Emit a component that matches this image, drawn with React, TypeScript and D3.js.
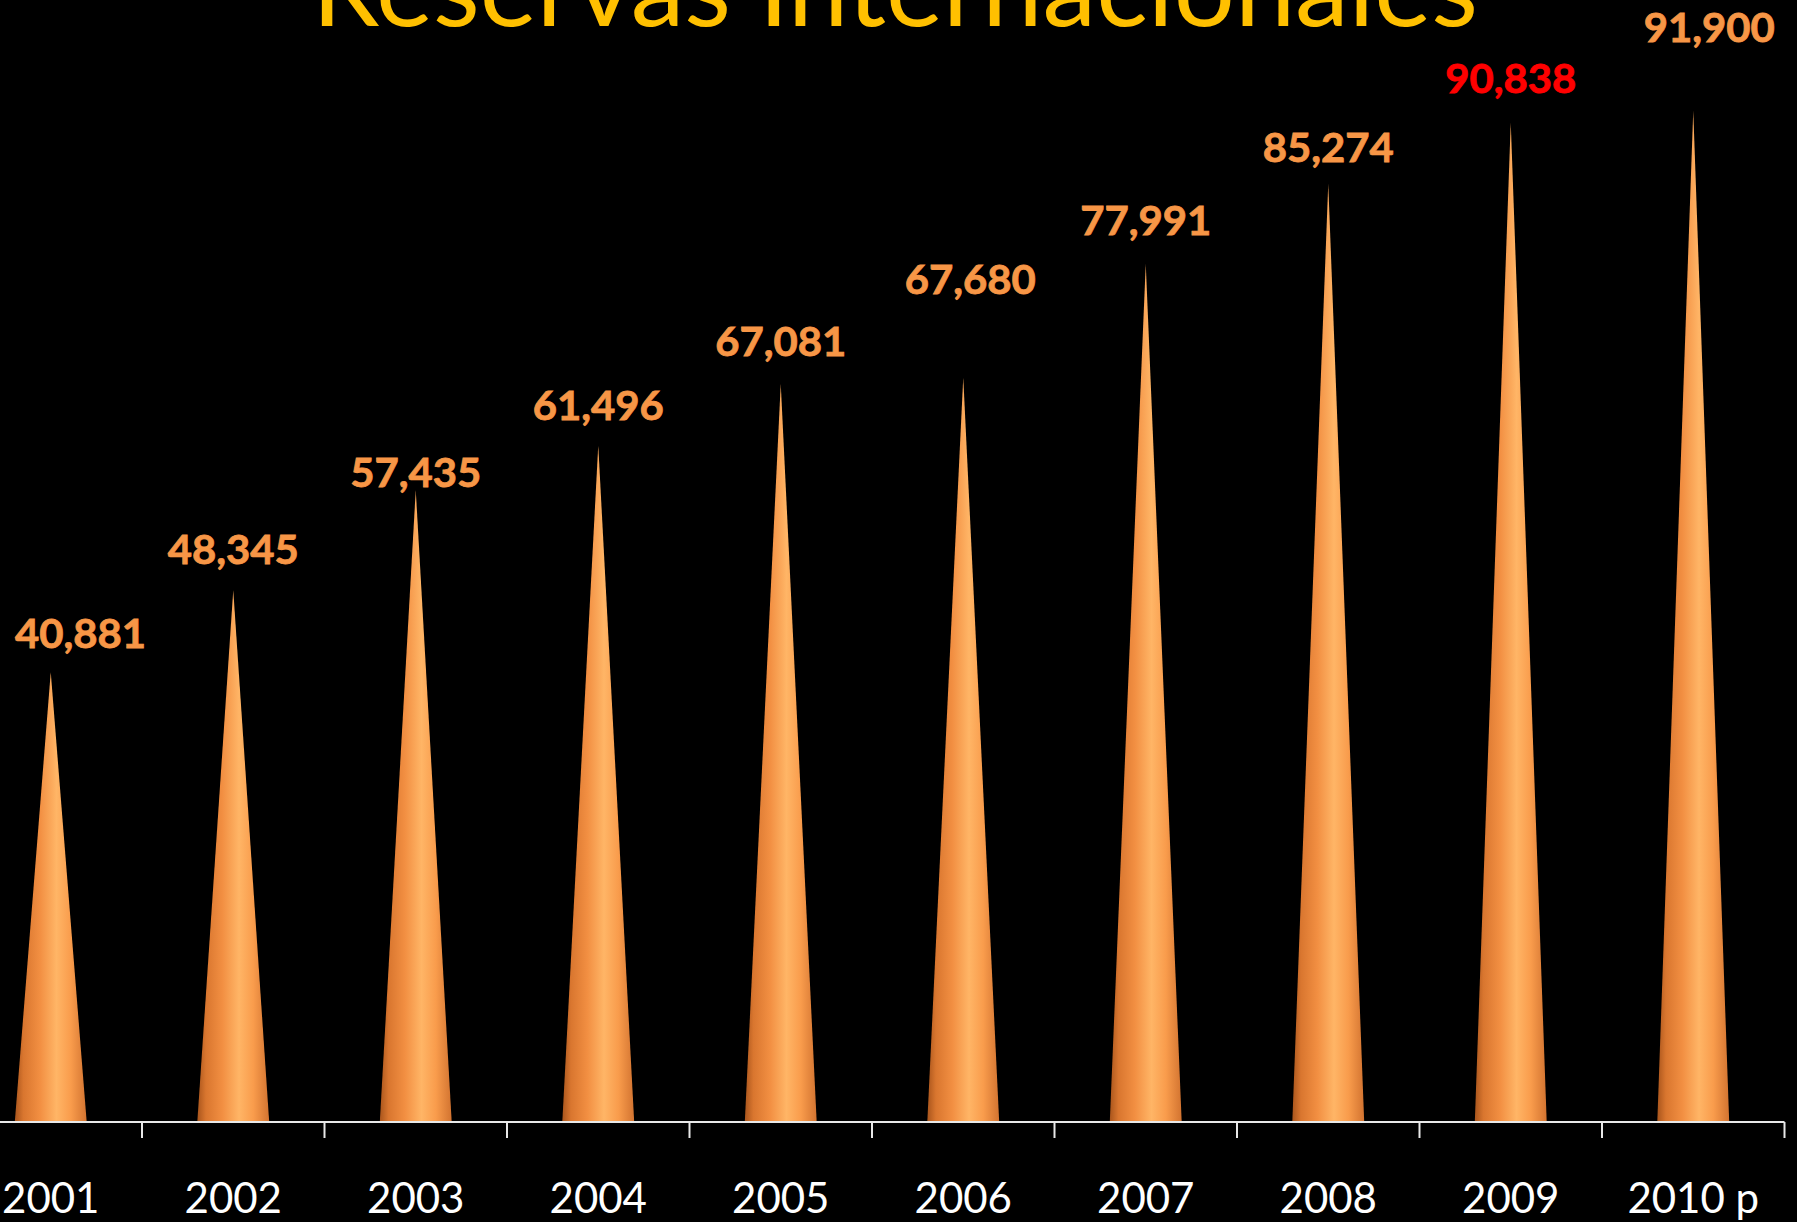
import React from "react";
import * as d3 from "d3";

const categories = ["2001", "2002", "2003", "2004", "2005", "2006", "2007", "2008", "2009", "2010 p"];
const reserves = [40881, 48345, 57435, 61496, 67081, 67680, 77991, 85274, 90838, 91900];
const labelTexts = ["40,881", "48,345", "57,435", "61,496", "67,081", "67,680", "77,991", "85,274", "90,838", "91,900"];
const highlightCategory = "2009";
const titleText = "Reservas Internacionales";

// label placement nudges (layout only, in px): lift above apex, horizontal shift
const labelLift = [24, 26, 3, 26, 28, 84, 29, 22, 30, 69];
const labelShift = [0, 0, 0, 0, 0, 7, 0, 0, 0, 16];

const W = 1797;
const H = 1222;

export default function App() {
  const x = d3.scaleBand<string>().domain(categories).range([-40.5, 1784.5]).padding(0);
  const y = d3.scaleLinear().domain([0, 100000]).range([1122, 22]);
  const bw = x.bandwidth();
  const half = bw * 0.197;
  const baseY = y(0);

  const cone = (c: string, v: number) => {
    const cx = (x(c) as number) + bw / 2;
    const p = d3.path();
    p.moveTo(cx - half, baseY);
    p.lineTo(cx, y(v));
    p.lineTo(cx + half, baseY);
    p.closePath();
    return p.toString();
  };

  const tickXs = categories.map((c) => x(c) as number).concat([x.range()[1]]).filter((t) => t > 0);

  return (
    <svg
      width={W}
      height={H}
      style={{ position: "absolute", left: 0, top: 0, background: "#000" }}
    >
      <defs>
        <linearGradient id="coneGrad" x1="0" y1="0" x2="1" y2="0">
          <stop offset="0%" stopColor="#A9551C" />
          <stop offset="12%" stopColor="#D9762F" />
          <stop offset="35%" stopColor="#F28F42" />
          <stop offset="58%" stopColor="#FFB566" />
          <stop offset="78%" stopColor="#F99C4C" />
          <stop offset="100%" stopColor="#D27330" />
        </linearGradient>
      </defs>
      <rect x={0} y={0} width={W} height={H} fill="#000" />

      <text
        x={895}
        y={26}
        textAnchor="middle"
        fill="#FFC000"
        fontFamily="Lato, 'Open Sans', sans-serif"
        fontSize={107}
        textLength={1166}
        lengthAdjust="spacingAndGlyphs"
      >
        {titleText}
      </text>

      {categories.map((c, i) => (
        <path key={c} d={cone(c, reserves[i])} fill="url(#coneGrad)" />
      ))}

      <line x1={0} x2={x.range()[1]} y1={baseY} y2={baseY} stroke="#E8E8E8" strokeWidth={2} />
      {tickXs.map((t, i) => (
        <line key={i} x1={t} x2={t} y1={baseY} y2={baseY + 16} stroke="#E8E8E8" strokeWidth={2} />
      ))}

      {categories.map((c) => (
        <text
          key={c}
          x={(x(c) as number) + bw / 2}
          y={1213}
          textAnchor="middle"
          fill="#FFFFFF"
          fontFamily="Lato, 'Open Sans', sans-serif"
          fontSize={42}
        >
          {c}
        </text>
      ))}

      {categories.map((c, i) => {
        const cx = (x(c) as number) + bw / 2 + labelShift[i];
        const lw = 131;
        const lx = Math.min(Math.max(cx, 15 + lw / 2), 1776 - lw / 2);
        const col = c === highlightCategory ? "#FF0000" : "#F79646";
        return (
          <text
            key={c}
            x={lx}
            y={y(reserves[i]) - labelLift[i]}
            textAnchor="middle"
            fill={col}
            stroke={col}
            strokeWidth={0.8}
            fontFamily="Lato, 'Open Sans', sans-serif"
            fontWeight="bold"
            fontSize={41}
            textLength={lw}
            lengthAdjust="spacingAndGlyphs"
          >
            {labelTexts[i]}
          </text>
        );
      })}
    </svg>
  );
}
